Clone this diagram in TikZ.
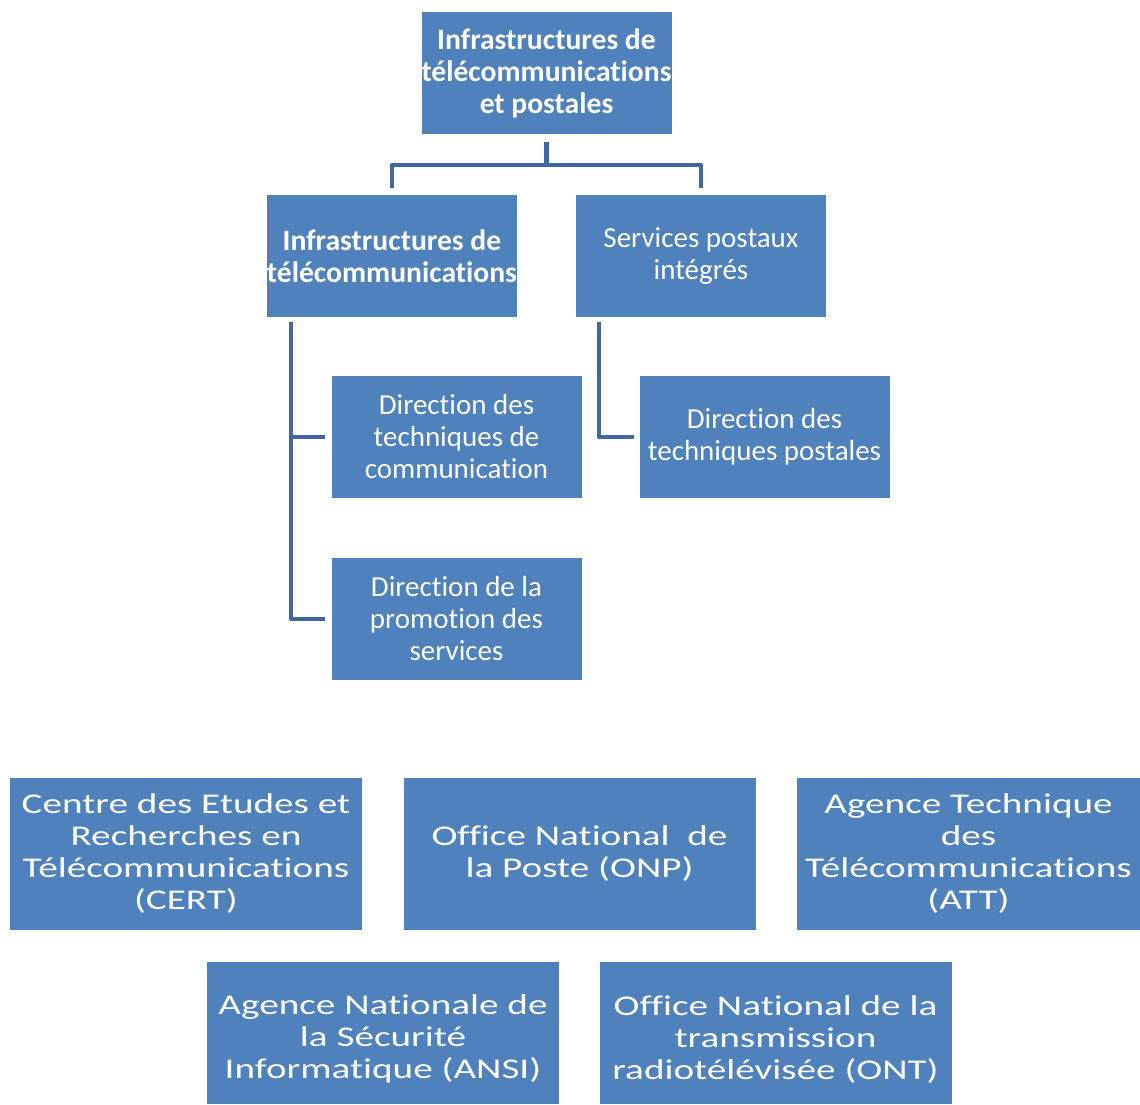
\documentclass[tikz,border=0pt]{standalone}
\usepackage{fontspec}
\setmainfont{Carlito}[Ligatures=NoCommon]
\newfontfamily\widefont{Carlito}[FakeStretch=1.37, Ligatures=NoCommon]
\usepackage{tikz}
\usetikzlibrary{positioning}
\definecolor{boxblue}{HTML}{4F81BD}
\definecolor{linkblue}{HTML}{41699E}
\tikzset{
    x=0.5pt, y=-0.5pt, % one unit is one pixel of the original
    unit/.style={fill=boxblue, text=white, align=center, inner sep=0pt,
        minimum width=125pt, minimum height=61pt,
        font=\fontsize{14.5}{16}\selectfont}, % sets the properties of each box
    head/.style={unit, font=\fontsize{14.8}{16}\selectfont\bfseries},
    agency/.style={unit, minimum width=176pt, minimum height=76pt,
        font=\fontsize{14.3}{16}\selectfont\widefont}, % boxes of the bottom rows
    link/.style={draw=linkblue, line width=2.3pt, line join=round}, % the tree lines
}
\begin{document}
\begin{tikzpicture}
\useasboundingbox (0,0) rectangle (1140,1104);
% ministry tree
\node[head]   (top)    at (546.5,73)  {Infrastructures de\\télécommunications\\et postales};
\node[head]   (infra)  at (392,256)   {Infrastructures de\\télécommunications};
\node[unit]   (postal) at (701,256)   {Services postaux\\intégrés};
\node[unit]   (dtc)    at (456.5,437) {Direction des\\techniques de\\communication};
\node[unit]   (dps)    at (456.5,619) {Direction de la\\promotion des\\services};
\node[unit]   (dtp)    at (764.5,437) {Direction des\\techniques postales};
% agencies
\node[agency] (cert) at (186,854)   {Centre des Etudes et\\Recherches en\\Télécommunications\\(CERT)};
\node[agency] (onp)  at (579.5,854) {Office National \ de\\la Poste (ONP)};
\node[agency, minimum width=172pt] (att) at (968.5,854) {Agence Technique\\des\\Télécommunications\\(ATT)};
\node[agency, minimum height=71pt] (ansi) at (383,1033) {\rule{0pt}{16pt}Agence Nationale de\\la Sécurité\\Informatique (ANSI)};
\node[agency, minimum height=71pt] (ont)  at (775.5,1033) {\rule{0pt}{16pt}Office National de la\\transmission\\radiotélévisée (ONT)};

\coordinate (bar)    at (546.5,165);
\coordinate (lspine) at (291,322);
\coordinate (rspine) at (599,322);
\draw[link, shorten <=8pt*0.5] (top.south) -- (bar);
\draw[link, shorten <=7pt*0.5] (infra.north) |- (bar);
\draw[link, shorten <=7pt*0.5] (postal.north) |- (bar);
\draw[link, shorten <=6pt*0.5] (dps.west) -| (lspine);
\draw[link, shorten <=6pt*0.5] (dtc.west) -- (dtc.west -| lspine);
\draw[link, shorten <=5pt*0.5] (dtp.west) -| (rspine);
\end{tikzpicture}
\end{document}
